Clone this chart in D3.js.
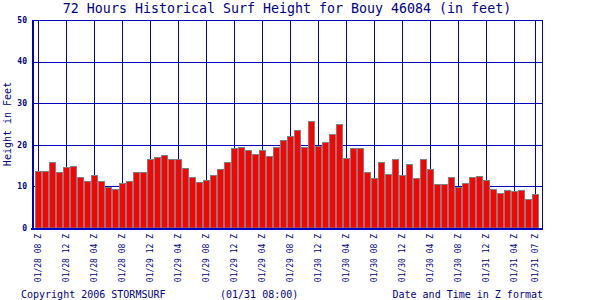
<!DOCTYPE html>
<html>
<head>
<meta charset="utf-8">
<script src="https://cdn.jsdelivr.net/npm/d3@7"></script>
<style>
  body { margin: 0; background: #fff; }
  svg { display: block; font-family: "DejaVu Sans Mono", monospace; }
</style>
</head>
<body>
<div id="chart"></div>
<script>
// surf height per hour, 01/28 08Z .. 01/31 07Z
const heights = [
  13.7, 13.7, 15.9, 13.5, 14.7, 14.9, 12.3, 11.3, 12.7, 11.3, 9.9, 9.4,
  10.8, 11.3, 13.5, 13.5, 16.6, 17.1, 17.5, 16.6, 16.6, 14.4, 12.3, 11.1,
  11.5, 12.7, 14.2, 15.9, 19.2, 19.5, 18.8, 17.8, 18.8, 17.3, 19.5, 21.2,
  22.1, 23.6, 19.5, 25.7, 19.7, 20.7, 22.6, 25.0, 16.8, 19.2, 19.2, 13.5,
  12.0, 15.9, 13.0, 16.6, 12.7, 15.4, 12.0, 16.6, 14.2, 10.6, 10.6, 12.3,
  9.9, 10.8, 12.3, 12.5, 11.5, 9.4, 8.4, 9.1, 8.9, 9.1, 7.0, 8.2
];
const tickLabels = [
  "01/28 08 Z", "01/28 12 Z", "01/28 04 Z", "01/28 08 Z", "01/29 12 Z",
  "01/29 04 Z", "01/29 08 Z", "01/29 12 Z", "01/29 04 Z", "01/29 08 Z",
  "01/30 12 Z", "01/30 04 Z", "01/30 08 Z", "01/30 12 Z", "01/30 04 Z",
  "01/30 08 Z", "01/31 12 Z", "01/31 04 Z", "01/31 07 Z"
];
const yTicks = [0, 10, 20, 30, 40, 50];

const w = 600;
const h = 300;
const padL = 32, padR = 542, padT = 20, padB = 228;
const navy = "#000080";
const grid = "#0000c0";

const svg = d3.select("#chart")
  .append("svg")
  .attr("width", w)
  .attr("height", h);

const xScale = d3.scaleBand()
  .domain(d3.range(heights.length))
  .range([padL + 3, padR - 3])
  .padding(0);

const yScale = d3.scaleLinear()
  .domain([0, 50])
  .range([padB, padT]);

// tick hours: every 4 hours plus the last one
const tickIdx = d3.range(0, heights.length, 4).concat([heights.length - 1]);

// grid
svg.append("g")
  .selectAll("line")
  .data(yTicks.filter(d => d > 0))
  .enter()
  .append("line")
  .attr("x1", padL).attr("x2", padR)
  .attr("y1", d => Math.round(yScale(d)) + 0.5)
  .attr("y2", d => Math.round(yScale(d)) + 0.5)
  .attr("stroke", grid);

svg.append("g")
  .selectAll("line")
  .data(tickIdx)
  .enter()
  .append("line")
  .attr("x1", d => Math.floor(xScale(d) + xScale.bandwidth() / 2) + 0.5)
  .attr("x2", d => Math.floor(xScale(d) + xScale.bandwidth() / 2) + 0.5)
  .attr("y1", padT).attr("y2", padB)
  .attr("stroke", grid);

// bars
svg.append("g")
  .selectAll("rect")
  .data(heights)
  .enter()
  .append("rect")
  .attr("x", (d, i) => xScale(i) + 0.5)
  .attr("y", d => Math.round(yScale(d)) + 0.5)
  .attr("width", xScale.bandwidth() - 1)
  .attr("height", d => padB - Math.round(yScale(d)) - 0.5)
  .attr("fill", "#ff0000")
  .attr("stroke", "#808080")
  .attr("stroke-width", 1);

// frame
svg.append("line")
  .attr("x1", padR + 0.5).attr("x2", padR + 0.5)
  .attr("y1", padT).attr("y2", padB)
  .attr("stroke", grid);
svg.append("line")
  .attr("x1", padL - 1).attr("x2", padR + 1)
  .attr("y1", padB + 1).attr("y2", padB + 1)
  .attr("stroke", grid).attr("stroke-width", 2);
svg.append("line")
  .attr("x1", padL + 1).attr("x2", padL + 1)
  .attr("y1", padT).attr("y2", padB + 2)
  .attr("stroke", grid).attr("stroke-width", 2);

// y axis labels
svg.append("g")
  .selectAll("text")
  .data(yTicks)
  .enter()
  .append("text")
  .attr("x", 27)
  .attr("y", d => yScale(d))
  .attr("dy", "0.35em")
  .attr("text-anchor", "end")
  .attr("fill", navy)
  .style("font-size", "8px")
  .style("font-weight", "bold")
  .text(d => d);

// x axis labels
svg.append("g")
  .selectAll("text")
  .data(tickIdx)
  .enter()
  .append("text")
  .attr("transform", d => "translate(" + (xScale(d) + xScale.bandwidth() / 2) + "," + 234 + ") rotate(-90)")
  .attr("dy", "0.35em")
  .attr("text-anchor", "end")
  .attr("fill", navy)
  .style("font-size", "8px")
  .text((d, i) => tickLabels[i]);

// titles
svg.append("text")
  .attr("x", (padL + padR) / 2)
  .attr("y", 13)
  .attr("text-anchor", "middle")
  .attr("fill", navy)
  .style("font-size", "13.3px")
  .text("72 Hours Historical Surf Height for Bouy 46084 (in feet)");

svg.append("text")
  .attr("transform", "translate(11," + (padT + padB) / 2 + ") rotate(-90)")
  .attr("text-anchor", "middle")
  .attr("fill", navy)
  .style("font-size", "10px")
  .text("Height in Feet");

svg.append("text")
  .attr("x", 21)
  .attr("y", 298)
  .attr("fill", navy)
  .style("font-size", "10px")
  .text("Copyright 2006 STORMSURF");

svg.append("text")
  .attr("x", 220)
  .attr("y", 298)
  .attr("fill", navy)
  .style("font-size", "10px")
  .text("(01/31 08:00)");

svg.append("text")
  .attr("x", 543)
  .attr("y", 298)
  .attr("text-anchor", "end")
  .attr("fill", navy)
  .style("font-size", "10px")
  .text("Date and Time in Z format");
</script>
</body>
</html>
